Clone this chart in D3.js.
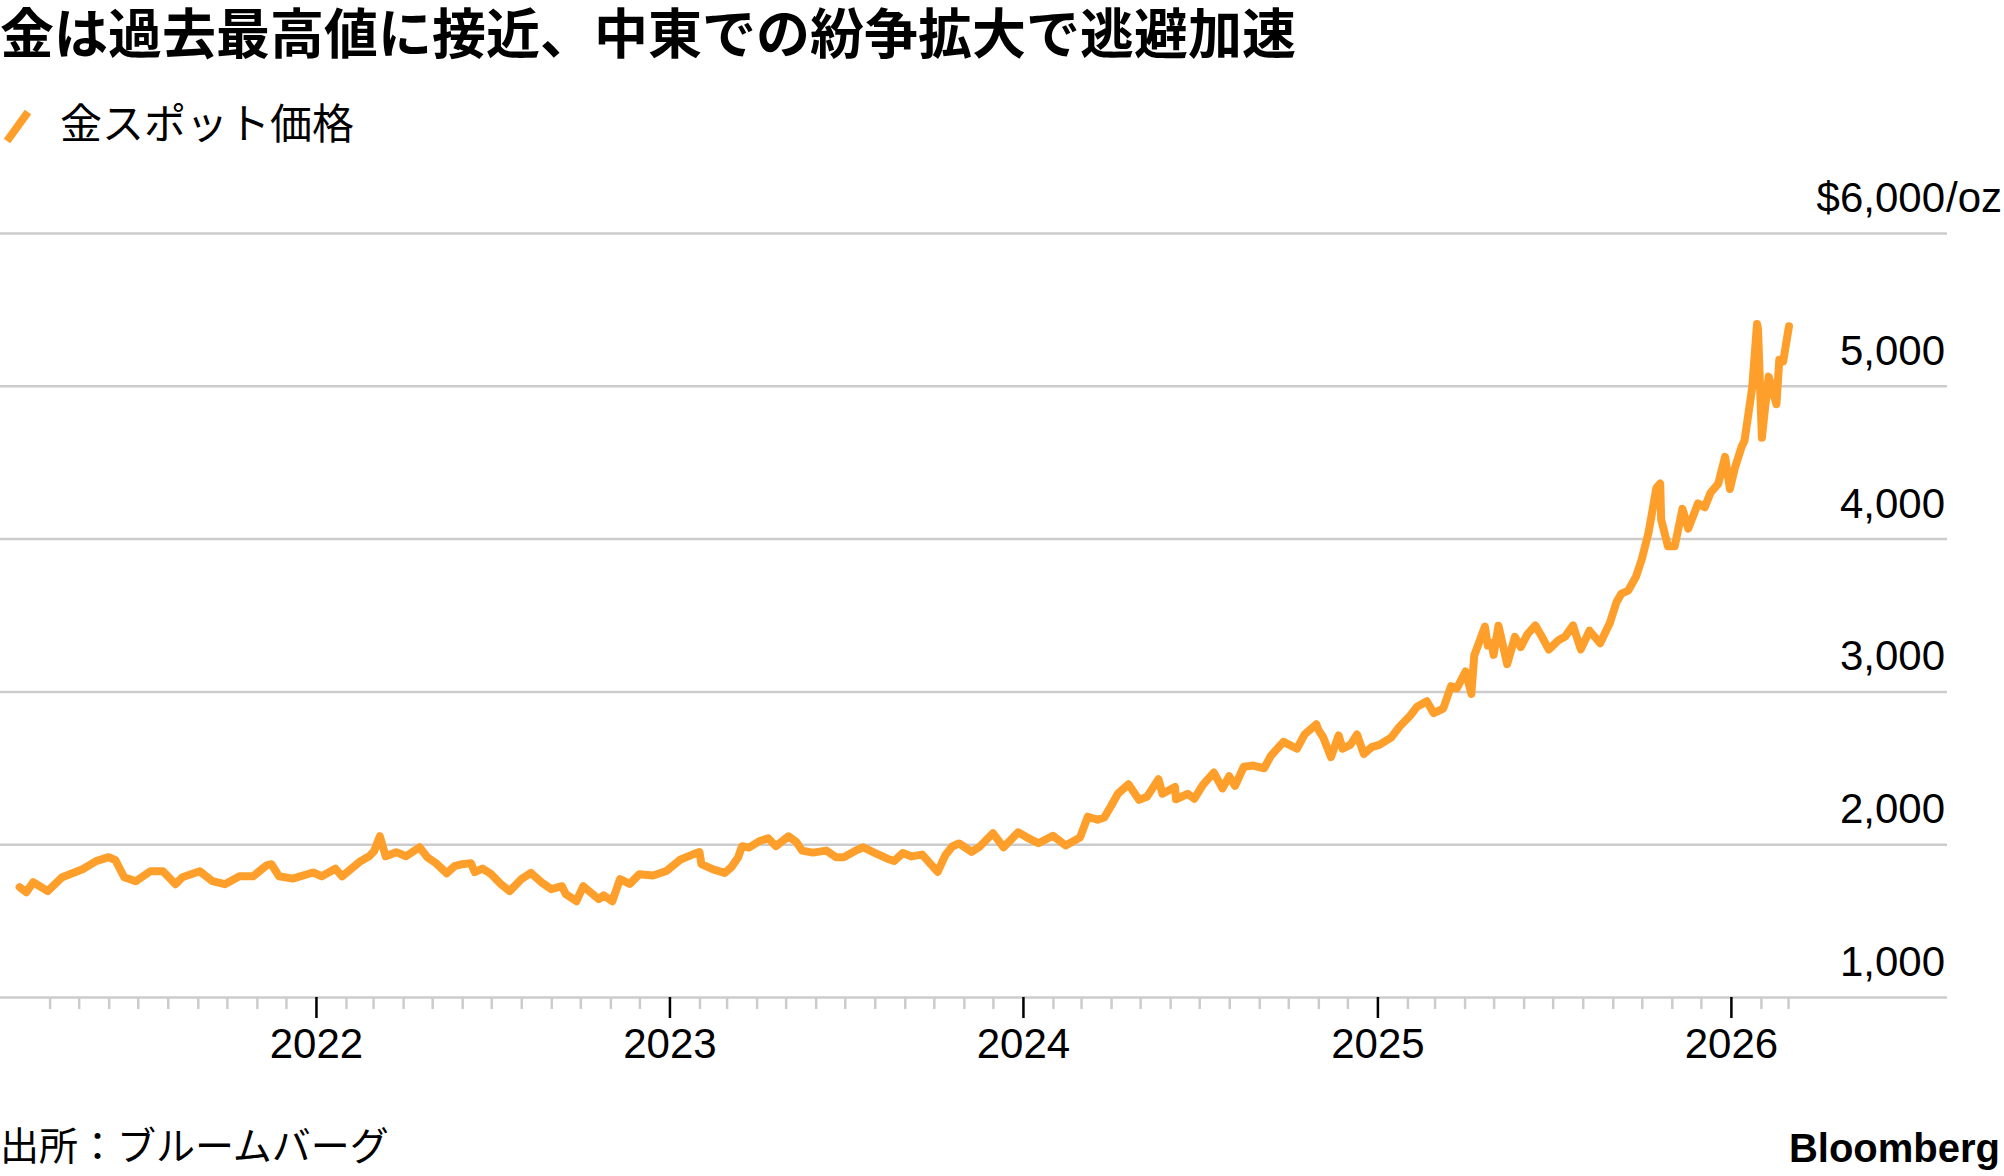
<!DOCTYPE html>
<html>
  <head>
    <meta charset="UTF-8" />
    <title>金スポット価格</title>

    <style>
      body { margin: 0; background: #fff; }
      .jp { font-family: "Noto Sans CJK JP", sans-serif; }
      .head { font-family: "Liberation Sans", "Noto Sans CJK JP", sans-serif; }
      .num { font-family: "Liberation Sans", Arial, sans-serif; }
    </style>

    <script src="https://d3js.org/d3.v7.min.js"></script>
    <script type="text/javascript">
      // gold spot price (USD/oz)
      var dates = [
        "2021-03-01", "2021-03-08", "2021-03-15", "2021-03-30", "2021-04-14", "2021-05-05",
        "2021-05-19", "2021-06-01", "2021-06-08", "2021-06-17", "2021-06-29", "2021-07-14",
        "2021-07-27", "2021-08-09", "2021-08-16", "2021-09-03", "2021-09-16", "2021-09-29",
        "2021-10-14", "2021-10-28", "2021-11-11", "2021-11-16", "2021-11-24", "2021-12-08",
        "2021-12-29", "2022-01-07", "2022-01-21", "2022-01-28", "2022-02-16", "2022-02-25",
        "2022-03-02", "2022-03-08", "2022-03-14", "2022-03-25", "2022-04-04", "2022-04-18",
        "2022-04-26", "2022-05-05", "2022-05-16", "2022-05-24", "2022-06-01", "2022-06-10",
        "2022-06-14", "2022-06-22", "2022-07-01", "2022-07-11", "2022-07-20", "2022-08-01",
        "2022-08-11", "2022-08-23", "2022-09-01", "2022-09-12", "2022-09-16", "2022-09-27",
        "2022-10-04", "2022-10-20", "2022-10-25", "2022-11-03", "2022-11-11", "2022-11-21",
        "2022-12-01", "2022-12-15", "2022-12-29", "2023-01-12", "2023-01-26", "2023-02-01",
        "2023-02-03", "2023-02-15", "2023-02-27", "2023-03-06", "2023-03-13", "2023-03-17",
        "2023-03-24", "2023-04-04", "2023-04-13", "2023-04-21", "2023-05-04", "2023-05-12",
        "2023-05-18", "2023-05-29", "2023-06-12", "2023-06-22", "2023-06-30", "2023-07-13",
        "2023-07-20", "2023-08-02", "2023-08-14", "2023-08-21", "2023-08-30", "2023-09-08",
        "2023-09-19", "2023-09-27", "2023-10-05", "2023-10-13", "2023-10-20", "2023-10-27",
        "2023-11-09", "2023-11-17", "2023-12-01", "2023-12-12", "2023-12-27", "2024-01-05",
        "2024-01-17", "2024-02-01", "2024-02-14", "2024-02-29", "2024-03-08", "2024-03-18",
        "2024-03-25", "2024-04-01", "2024-04-08", "2024-04-19", "2024-04-30", "2024-05-08",
        "2024-05-20", "2024-05-24", "2024-06-06", "2024-06-07", "2024-06-19", "2024-06-26",
        "2024-07-05", "2024-07-16", "2024-07-25", "2024-08-01", "2024-08-07", "2024-08-16",
        "2024-08-26", "2024-09-06", "2024-09-13", "2024-09-26", "2024-10-10", "2024-10-18",
        "2024-10-30", "2024-11-01", "2024-11-06", "2024-11-14", "2024-11-22", "2024-11-26",
        "2024-12-04", "2024-12-11", "2024-12-18", "2024-12-26", "2025-01-03", "2025-01-15",
        "2025-01-24", "2025-02-04", "2025-02-11", "2025-02-21", "2025-02-28", "2025-03-10",
        "2025-03-18", "2025-03-24", "2025-04-02", "2025-04-08", "2025-04-11", "2025-04-22",
        "2025-04-25", "2025-04-29", "2025-05-01", "2025-05-06", "2025-05-15", "2025-05-23",
        "2025-05-29", "2025-06-05", "2025-06-13", "2025-06-19", "2025-06-27", "2025-07-07",
        "2025-07-14", "2025-07-22", "2025-07-30", "2025-08-08", "2025-08-19", "2025-08-29",
        "2025-09-05", "2025-09-10", "2025-09-17", "2025-09-25", "2025-10-01", "2025-10-08",
        "2025-10-16", "2025-10-20", "2025-10-21", "2025-10-28", "2025-11-04", "2025-11-12",
        "2025-11-18", "2025-11-28", "2025-12-05", "2025-12-11", "2025-12-19", "2025-12-26",
        "2025-12-31", "2026-01-05", "2026-01-12", "2026-01-15", "2026-01-21", "2026-01-23",
        "2026-01-28", "2026-01-29", "2026-02-02", "2026-02-05", "2026-02-09", "2026-02-12",
        "2026-02-17", "2026-02-20", "2026-02-24", "2026-03-02",
      ];
      var prices = [
        1719, 1686, 1751, 1693, 1784, 1836,
        1889, 1915, 1895, 1784, 1758, 1823,
        1823, 1738, 1784, 1823, 1758, 1738,
        1790, 1790, 1862, 1869, 1790, 1775,
        1815, 1790, 1840, 1790, 1889, 1921,
        1954, 2052, 1921, 1948, 1921, 1980,
        1915, 1875, 1810, 1856, 1869, 1876,
        1817, 1840, 1804, 1738, 1693, 1771,
        1812, 1745, 1706, 1725, 1673, 1627,
        1725, 1640, 1666, 1627, 1771, 1740,
        1804, 1795, 1825, 1898, 1935, 1948,
        1869, 1835, 1812, 1850, 1915, 1987,
        1978, 2020, 2039, 1987, 2052, 2015,
        1958, 1945, 1958, 1915, 1915, 1960,
        1980, 1940, 1905, 1890, 1942, 1920,
        1932, 1875, 1820, 1930, 1985, 2005,
        1950, 1982, 2072, 1980, 2078, 2045,
        2006, 2055, 1992, 2044, 2180, 2160,
        2175, 2250, 2330, 2392, 2290, 2310,
        2425, 2330, 2375, 2294, 2330, 2298,
        2390, 2469, 2365, 2445, 2382, 2507,
        2515, 2497, 2578, 2670, 2625, 2720,
        2785, 2750, 2700, 2570, 2712, 2625,
        2650, 2718, 2590, 2635, 2650, 2697,
        2770, 2842, 2900, 2936, 2858, 2888,
        3034, 3020, 3130, 2984, 3235, 3424,
        3300, 3317, 3239, 3430, 3178, 3357,
        3290, 3375, 3432, 3368, 3274, 3335,
        3360, 3432, 3275, 3397, 3315, 3448,
        3586, 3640, 3660, 3750, 3865, 4040,
        4330, 4360, 4125, 3950, 3950, 4195,
        4065, 4230, 4205, 4300, 4360, 4535,
        4325, 4460, 4600, 4640, 4900, 4990,
        5405, 5370, 4660, 4840, 5060, 4990,
        4880, 5170, 5160, 5390,
      ];
      var yTicks = [1000, 2000, 3000, 4000, 5000, 6000];
      var yTickLabels = ["1,000", "2,000", "3,000", "4,000", "5,000", "$6,000"];
      var yUnit = "/oz";
      var years = [2022, 2023, 2024, 2025, 2026];

      var title = "金は過去最高値に接近、中東での紛争拡大で逃避加速";
      var seriesName = "金スポット価格";
      var source = "出所：ブルームバーグ";

      var width = 2004;
      var height = 1176;
      var gold = "#ff9f2b";
      var grid = "#cccccc";

      draw = () => {
        var parse = d3.timeParse("%Y-%m-%d");
        var data = dates.map((d, i) => ({ date: parse(d), value: prices[i] }));

        var svg = d3.select("#viz");

        var x = d3
          .scaleTime()
          .domain([new Date(2021, 2, 1), new Date(2026, 2, 2)])
          .range([19.6, 1789]);
        var y = d3.scaleLinear().domain([1000, 6000]).range([997, 233]);

        // horizontal grid lines (1,000 line doubles as the baseline)
        var gridAxis = d3
          .axisLeft(y)
          .tickValues(yTicks)
          .tickSize(1947)
          .tickFormat("");
        var g = svg
          .append("g")
          .attr("transform", "translate(1947,0)")
          .call(gridAxis);
        g.select(".domain").remove();
        g.selectAll("line").attr("stroke", grid).attr("stroke-width", 2.5);

        // y labels sit above their grid line
        svg
          .append("g")
          .selectAll("text")
          .data(yTicks)
          .join("text")
          .attr("class", "num")
          .attr("x", 1945)
          .attr("y", (d) => y(d) - 21)
          .attr("text-anchor", "end")
          .attr("font-size", 42)
          .text((d, i) => yTickLabels[i]);
        svg
          .append("text")
          .attr("class", "num")
          .attr("x", 1946)
          .attr("y", y(6000) - 21)
          .attr("font-size", 42)
          .text(yUnit);

        // monthly minor ticks
        var months = d3
          .timeMonth.range(new Date(2021, 3, 1), new Date(2026, 2, 2))
          .filter((d) => d.getMonth() !== 0);
        var minor = svg
          .append("g")
          .attr("transform", "translate(0," + y(1000) + ")")
          .call(d3.axisBottom(x).tickValues(months).tickSize(12).tickFormat(""));
        minor.select(".domain").remove();
        minor.selectAll("line").attr("stroke", grid).attr("stroke-width", 2.5);

        // year ticks
        var major = svg
          .append("g")
          .attr("transform", "translate(0," + y(1000) + ")")
          .call(
            d3
              .axisBottom(x)
              .tickValues(years.map((yr) => new Date(yr, 0, 1)))
              .tickSize(21)
              .tickFormat((d) => d.getFullYear())
          );
        major.select(".domain").remove();
        major.selectAll("line").attr("stroke", "#000").attr("stroke-width", 2.5);
        major
          .selectAll("text")
          .attr("class", "num")
          .attr("y", 61)
          .attr("dy", 0)
          .attr("font-size", 42)
          .attr("fill", "#000");

        // price line
        var line = d3
          .line()
          .x((d) => x(d.date))
          .y((d) => y(d.value));
        svg
          .append("path")
          .datum(data)
          .attr("d", line)
          .attr("fill", "none")
          .attr("stroke", gold)
          .attr("stroke-width", 8)
          .attr("stroke-linejoin", "round")
          .attr("stroke-linecap", "round");

        // title, legend, footer
        svg
          .append("text")
          .attr("class", "head")
          .attr("x", 0)
          .attr("y", 54)
          .attr("font-size", 54)
          .attr("font-weight", 700)
          .text(title);

        svg
          .append("line")
          .attr("x1", 7)
          .attr("y1", 141)
          .attr("x2", 28)
          .attr("y2", 112)
          .attr("stroke", gold)
          .attr("stroke-width", 8);
        svg
          .append("text")
          .attr("class", "jp")
          .attr("x", 60)
          .attr("y", 139)
          .attr("font-size", 42)
          .text(seriesName);

        svg
          .append("text")
          .attr("class", "jp")
          .attr("x", 0)
          .attr("y", 1160)
          .attr("font-size", 39)
          .text(source);
        svg
          .append("text")
          .attr("class", "num")
          .attr("x", 2000)
          .attr("y", 1162)
          .attr("text-anchor", "end")
          .attr("font-size", 40)
          .attr("font-weight", 700)
          .text("Bloomberg");
      };
    </script>
  </head>
  <body onload="draw()">
    <svg id="viz" width="2004" height="1176"></svg>
  </body>
</html>
